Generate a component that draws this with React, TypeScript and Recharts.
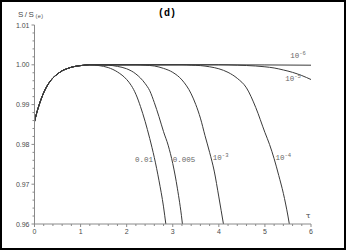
import { LineChart, Line, XAxis, YAxis, ReferenceDot } from 'recharts';

// common rising part, identical for every curve
const RISE_T = [0, 0.05, 0.1, 0.2, 0.3, 0.4, 0.5, 0.6, 0.7, 0.8, 1.0, 1.2];
const RISE_S = [0.9857, 0.988, 0.9899, 0.993, 0.9952, 0.9967, 0.9977, 0.9985, 0.999, 0.9994, 0.9998, 1.0];

// tails, one per parameter value
const T_01 = [1.4, 1.6, 1.8, 2.0, 2.1, 2.2, 2.3, 2.4, 2.5, 2.6, 2.7, 2.8, 2.85];
const S_01 = [0.9998, 0.9993, 0.9982, 0.9963, 0.9948, 0.9926, 0.9895, 0.9858, 0.9815, 0.9767, 0.971, 0.9643, 0.96];

const T_005 = [1.6, 1.8, 2.0, 2.2, 2.4, 2.5, 2.6, 2.7, 2.8, 2.9, 3.0, 3.1, 3.2, 3.21];
const S_005 = [0.9999, 0.9996, 0.999, 0.9977, 0.9953, 0.9935, 0.9905, 0.987, 0.9832, 0.9798, 0.9752, 0.969, 0.961, 0.96];

const T_E3 = [2.2, 2.4, 2.6, 2.8, 3.0, 3.2, 3.4, 3.5, 3.6, 3.7, 3.8, 3.9, 4.0, 4.1];
const S_E3 = [1.0, 0.9999, 0.9997, 0.9991, 0.9981, 0.9962, 0.9927, 0.99, 0.9866, 0.9822, 0.978, 0.9733, 0.9668, 0.96];

const T_E4 = [3.2, 3.4, 3.6, 3.8, 4.0, 4.2, 4.4, 4.6, 4.8, 5.0, 5.1, 5.2, 5.3, 5.4, 5.5, 5.53];
const S_E4 = [1.0, 0.9999, 0.9998, 0.9995, 0.999, 0.9981, 0.9966, 0.9942, 0.9893, 0.983, 0.98, 0.9764, 0.9722, 0.9677, 0.962, 0.96];

const T_E5 = [4.0, 4.4, 4.8, 5.0, 5.2, 5.4, 5.6, 5.8, 6.0];
const S_E5 = [1.0, 0.9999, 0.9997, 0.9995, 0.9992, 0.9987, 0.9981, 0.9973, 0.9963];

const T_E6 = [2.0, 4.0, 6.0];
const S_E6 = [1.0, 1.0, 0.9999];

const X_TICKS = [0, 1, 2, 3, 4, 5, 6];
const Y_TICKS = [0.96, 0.97, 0.98, 0.99, 1.0, 1.01];

// curve labels: [base, exponent, tau, S]
const LABELS: [string, string, number, number][] = [
  ['0.01', '', 2.18, 0.9756],
  ['0.005', '', 3.0, 0.9756],
  ['10', '-3', 3.87, 0.9761],
  ['10', '-4', 5.23, 0.9761],
  ['10', '-5', 5.44, 0.996],
  ['10', '-6', 5.55, 1.0017],
];

function join(t: number[], s: number[]) {
  const pts = RISE_T.map((x, i) => ({ t: x, s: RISE_S[i] }));
  t.forEach((x, i) => pts.push({ t: x, s: s[i] }));
  return pts;
}

const CURVES = [
  join(T_01, S_01),
  join(T_005, S_005),
  join(T_E3, S_E3),
  join(T_E4, S_E4),
  join(T_E5, S_E5),
  join(T_E6, S_E6),
];

// minor ticks
const xMinor: number[] = [];
for (let i = 0; i <= 30; i++) xMinor.push(Number((i * 0.2).toFixed(1)));
const yMinor: number[] = [];
for (let i = 0; i <= 25; i++) yMinor.push(Number((0.96 + i * 0.002).toFixed(3)));

const AXIS = '#8a8a8a';
const TXT = '#4a4a4a';
const SANS = '"Liberation Sans", Arial, sans-serif';
const MONO = '"Liberation Mono", "DejaVu Sans Mono", monospace';

function XTick({ x, y, payload }: any) {
  const v = payload.value;
  const major = Math.abs(v - Math.round(v)) < 1e-6;
  return (
    <g>
      <line x1={x} x2={x} y1={y} y2={y + (major ? 3 : 2)} stroke={AXIS} strokeWidth={1} />
      {major && (
        <text x={x} y={y + 10} textAnchor="middle" fontSize={7} fontFamily={SANS} fill={TXT}>
          {v}
        </text>
      )}
    </g>
  );
}

function YTick({ x, y, payload }: any) {
  const v = payload.value;
  const major = Math.abs(v * 100 - Math.round(v * 100)) < 1e-6;
  return (
    <g>
      <line x1={x - (major ? 3 : 2)} x2={x} y1={y} y2={y} stroke={AXIS} strokeWidth={1} />
      {major && (
        <text x={x - 5} y={y + 2.5} textAnchor="end" fontSize={7} fontFamily={SANS} fill={TXT}>
          {v.toFixed(2)}
        </text>
      )}
    </g>
  );
}

export default function App() {
  return (
    <div style={{ position: 'relative', width: 346, height: 250, background: '#fff' }}>
      <style>{'body{margin:0}'}</style>
      <LineChart width={346} height={250} margin={{ top: 25, right: 35, bottom: 0, left: 0 }}>
        <XAxis
          dataKey="t"
          type="number"
          domain={[0, 6]}
          ticks={xMinor}
          interval={0}
          allowDataOverflow
          height={26}
          stroke={AXIS}
          tickLine={false}
          tickSize={0}
          tickMargin={0}
          tick={<XTick />}
        />
        <YAxis
          dataKey="s"
          type="number"
          domain={[0.96, 1.01]}
          ticks={yMinor}
          interval={0}
          allowDataOverflow
          width={34.5}
          stroke={AXIS}
          tickLine={false}
          tickSize={0}
          tickMargin={0}
          tick={<YTick />}
        />
        {CURVES.map((d, i) => (
          <Line
            key={i}
            data={d}
            dataKey="s"
            type="monotone"
            stroke="#3a3a3a"
            strokeWidth={1}
            dot={false}
            isAnimationActive={false}
          />
        ))}
        {LABELS.map(([base, exp, t, s], i) => (
          <ReferenceDot
            key={'l' + i}
            x={t}
            y={s}
            r={0}
            shape={(p: any) => (
              <text x={p.cx} y={p.cy} fontSize={7.5} fontFamily={MONO} fill="#666">
                {base}
                {exp && (
                  <tspan dy={-3} fontSize={5.5}>
                    {exp}
                  </tspan>
                )}
              </text>
            )}
          />
        ))}
      </LineChart>
      <svg width={346} height={250} style={{ position: 'absolute', left: 0, top: 0, pointerEvents: 'none' }}>
        <text x={167} y={16} textAnchor="middle" fontSize={10} fontWeight="bold" fontFamily={MONO} fill="#000">
          (d)
        </text>
        <text x={18} y={16.5} fontSize={8} fontFamily={SANS} fill={TXT} letterSpacing={1.5}>
          S/S
          <tspan dy={1.5} fontSize={5.5} letterSpacing={0.5}>
            (e)
          </tspan>
        </text>
        <text x={306} y={218} fontSize={8} fontFamily='"DejaVu Serif", serif' fill={TXT}>
          τ
        </text>
      </svg>
      <div
        style={{
          position: 'absolute',
          inset: 0,
          border: '2px solid #000',
          boxSizing: 'border-box',
          pointerEvents: 'none',
        }}
      />
    </div>
  );
}
